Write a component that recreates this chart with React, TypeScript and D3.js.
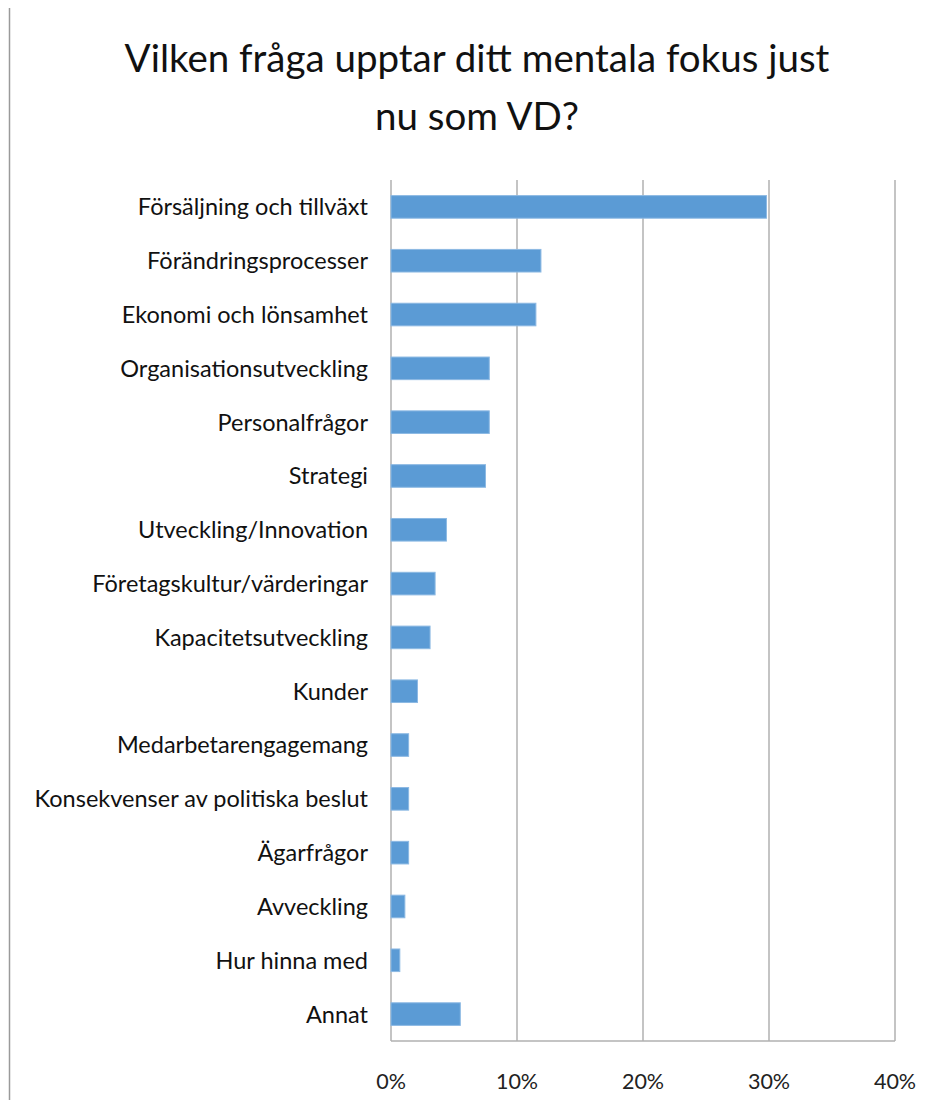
import React from 'react';
import * as d3 from 'd3';

const categories = [
  'Försäljning och tillväxt',
  'Förändringsprocesser',
  'Ekonomi och lönsamhet',
  'Organisationsutveckling',
  'Personalfrågor',
  'Strategi',
  'Utveckling/Innovation',
  'Företagskultur/värderingar',
  'Kapacitetsutveckling',
  'Kunder',
  'Medarbetarengagemang',
  'Konsekvenser av politiska beslut',
  'Ägarfrågor',
  'Avveckling',
  'Hur hinna med',
  'Annat',
];
const values = [29.8, 11.9, 11.5, 7.8, 7.8, 7.5, 4.4, 3.5, 3.1, 2.1, 1.4, 1.4, 1.4, 1.1, 0.7, 5.5];
const ticks = [0, 10, 20, 30, 40];
const titleLines = ['Vilken fråga upptar ditt mentala fokus just', 'nu som VD?'];

const FONT = 'Lato, "Open Sans", sans-serif';

export default function App() {
  const width = 932;
  const height = 1108;
  const left = 391;
  const right = 895;
  const top = 180;
  const bottom = 1041;

  const x = d3.scaleLinear().domain([0, 40]).range([left, right]);
  const y = d3.scaleBand().domain(categories).range([top, bottom]).paddingInner(0.58).paddingOuter(0.29);

  return (
    <svg width={width} height={height} style={{ display: 'block', margin: -8 }}>
      <rect x={0} y={0} width={width} height={height} fill="#fff" />
      <line x1={9.5} y1={6} x2={9.5} y2={height} stroke="#9a9a9a" strokeWidth={1.5} />
      <line x1={9} y1={6.5} x2={width} y2={6.5} stroke="#9a9a9a" strokeWidth={1.5} />

      {titleLines.map((t, i) => (
        <text key={t} x={477} y={72 + i * 58} textAnchor="middle" fontFamily={FONT} fontSize={38.5} fill="#111">
          {t}
        </text>
      ))}

      {ticks.map((t) => (
        <g key={t}>
          <line x1={x(t)} x2={x(t)} y1={top} y2={bottom} stroke="#b0b0b0" strokeWidth={1.5} />
          <text x={x(t)} y={1089} textAnchor="middle" fontFamily={FONT} fontSize={21.5} fill="#222">
            {t}%
          </text>
        </g>
      ))}
      <line x1={left} x2={right} y1={bottom} y2={bottom} stroke="#b0b0b0" strokeWidth={1.5} />

      {categories.map((c, i) => (
        <g key={c}>
          <rect
            x={x(0)}
            y={y(c)!}
            width={x(values[i]) - x(0)}
            height={y.bandwidth()}
            fill="#5B9BD5"
            stroke="#8cb9e3"
            strokeWidth={1}
          />
          <text
            x={368}
            y={y(c)! + y.bandwidth() / 2}
            dy="0.36em"
            textAnchor="end"
            fontFamily={FONT}
            fontSize={23.5}
            fill="#111"
          >
            {c}
          </text>
        </g>
      ))}
    </svg>
  );
}
